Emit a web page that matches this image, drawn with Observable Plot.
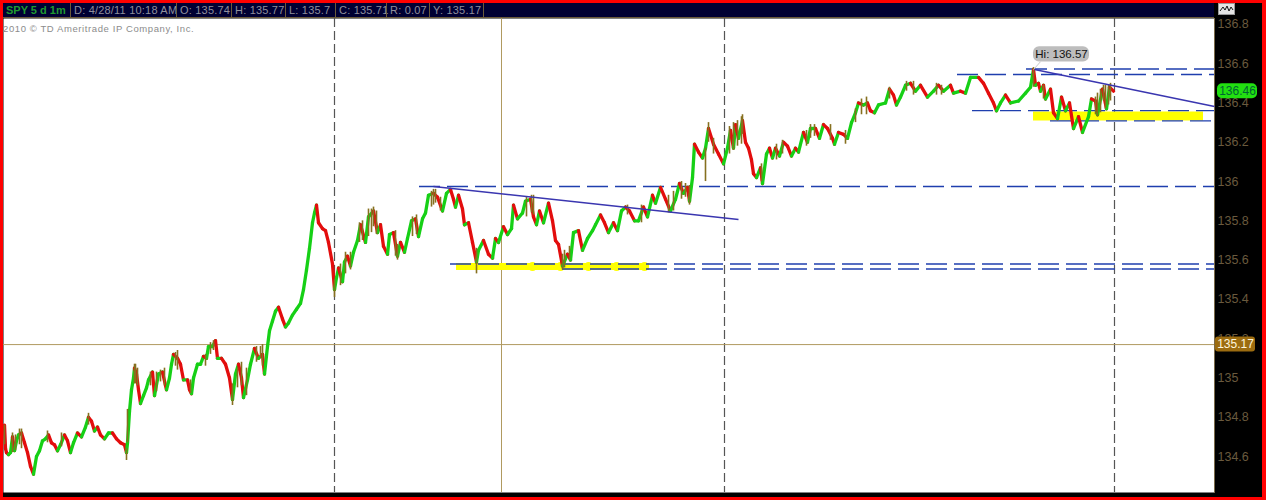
<!DOCTYPE html>
<html><head><meta charset="utf-8">
<script src="https://cdn.jsdelivr.net/npm/d3@7"></script>
<script src="https://cdn.jsdelivr.net/npm/@observablehq/plot@0.6"></script>
<style>
html,body{margin:0;padding:0;background:#f00;font-family:"Liberation Sans",Arial,sans-serif}
#page{position:relative;width:1266px;height:500px;background:#f00;overflow:hidden}
#inner{position:absolute;left:3px;top:3px;width:1259px;height:494px;background:#000}
#head{position:absolute;left:3px;top:3px;width:1211px;height:15px;background:#000033;border-bottom:1px solid #6a5a3a;box-sizing:border-box}
#head span{position:absolute;top:0;line-height:14px;font-size:11px;letter-spacing:.2px;color:#8f8f9c;white-space:nowrap;padding-left:3px;height:14px;border-left:1px solid #6a5a3a}
#head span.sym{left:3px;border:none;color:#1f9a30;font-weight:bold;padding:0;letter-spacing:0}
#icon{position:absolute;left:1218px;top:3px;width:17px;height:12px}
#copy{position:absolute;left:3px;top:23px;font-size:9.5px;letter-spacing:.6px;color:#8c8c8c;white-space:nowrap;z-index:2}
#plot{position:absolute;left:0;top:0}
</style></head><body>
<div id="page"><div id="inner"></div><div id="plot"></div>
<div id="head"><span class="sym">SPY 5 d 1m</span></div>
<svg id="icon" viewBox="0 0 17 12"><rect x=".5" y=".5" width="16" height="11" fill="#e4e4e4" stroke="#999"/><polyline points="2,8 5,4 7,7 9,3 11,8 13,4 15,7" fill="none" stroke="#111" stroke-width="1"/></svg>
<div id="copy">2010 © TD Ameritrade IP Company, Inc.</div></div>
<script>
const headerCells=[["D: 4/28/11 10:18 AM",67],["O: 135.74",173],["H: 135.77",228],["L: 135.7",282],["C: 135.71",332],["R: 0.07",383],["Y: 135.17",426],["",480]];
const barMinutes=[4,5,6,8,10,12,14,16,18,21,24,27,30,33,36,39,42,45,48,51,54,57,60,64,67,70,73,77,81,85,88,91,94,97,100,104,108,112,116,120,124,126,127,129,131,133,134,136,138,140,143,146,148,152,154,158,162,166,169,171,173,177,180,183,187,189,191,193,197,200,203,206,208,212,215,217,221,225,229,232,235,238,241,243,247,250,254,258,262,264,267,269,272,275,278,282,285,288,292,296,300,303,306,309,312,314,316,318,322,325,328,332,334,336,338,342,344,347,350,353,357,360,365,368,373,377,380,383,387,389,393,397,400,404,407,411,415,418,422,425,428,433,437,442,446,450,453,455,458,462,464,468,472,476,478,483,488,492,495,498,503,507,511,513,517,522,525,530,533,536,539,543,548,552,555,558,562,567,570,573,578,582,587,592,595,600,604,608,613,617,621,625,629,634,638,643,647,652,655,660,665,670,675,679,683,687,689,692,694,698,702,705,708,713,718,723,727,730,733,735,738,742,745,748,751,753,756,760,762,766,769,772,775,779,783,787,791,795,798,803,807,810,815,819,823,827,832,834,838,843,847,851,855,858,863,867,870,874,878,885,889,893,896,900,905,910,915,920,927,933,938,943,950,953,960,965,970,978,983,988,993,996,1000,1005,1010,1018,1025,1030,1033,1035,1038,1040,1043,1045,1050,1053,1057,1061,1065,1069,1073,1078,1082,1088,1091,1095,1097,1102,1106,1109,1113];
const barCloses=[134.76,134.64,134.62,134.61,134.62,134.70,134.63,134.68,134.71,134.72,134.67,134.62,134.55,134.51,134.60,134.63,134.68,134.69,134.71,134.67,134.66,134.63,134.66,134.71,134.68,134.62,134.67,134.72,134.70,134.75,134.80,134.78,134.73,134.75,134.71,134.69,134.72,134.72,134.69,134.67,134.66,134.62,134.67,134.83,134.94,135.00,135.05,135.02,134.94,134.87,134.91,134.95,134.99,135.03,134.91,135.02,135.03,134.94,135.00,135.07,135.12,135.10,135.07,134.99,134.99,134.94,134.92,135.00,135.07,135.07,135.11,135.10,135.16,135.16,135.19,135.10,135.10,135.07,135.00,134.89,135.02,135.07,135.00,134.90,134.99,135.07,135.15,135.10,135.12,135.02,135.16,135.24,135.29,135.34,135.36,135.30,135.26,135.28,135.32,135.35,135.38,135.45,135.55,135.66,135.79,135.84,135.88,135.79,135.76,135.75,135.69,135.58,135.45,135.51,135.56,135.49,135.59,135.62,135.57,135.64,135.70,135.78,135.69,135.82,135.85,135.74,135.78,135.67,135.63,135.73,135.74,135.62,135.69,135.64,135.71,135.80,135.81,135.72,135.81,135.84,135.93,135.94,135.92,135.85,135.94,135.96,135.91,135.87,135.93,135.86,135.78,135.79,135.69,135.59,135.65,135.70,135.63,135.61,135.71,135.69,135.77,135.73,135.76,135.88,135.81,135.84,135.90,135.91,135.82,135.78,135.85,135.79,135.89,135.80,135.70,135.68,135.57,135.63,135.60,135.74,135.75,135.65,135.71,135.75,135.78,135.83,135.79,135.74,135.79,135.75,135.85,135.87,135.85,135.80,135.80,135.87,135.82,135.93,135.89,135.97,135.91,135.85,135.91,135.99,135.94,135.97,135.90,136.02,136.19,136.15,136.12,136.17,136.27,136.19,136.14,136.09,136.17,136.26,136.17,136.29,136.22,136.31,136.20,136.17,136.11,136.04,136.02,136.07,135.99,136.14,136.17,136.12,136.17,136.13,136.20,136.18,136.13,136.17,136.15,136.25,136.20,136.27,136.27,136.22,136.29,136.27,136.22,136.19,136.25,136.24,136.22,136.30,136.35,136.40,136.39,136.40,136.36,136.35,136.39,136.40,136.47,136.44,136.39,136.43,136.49,136.50,136.46,136.49,136.43,136.46,136.49,136.46,136.49,136.45,136.46,136.45,136.53,136.53,136.50,136.45,136.40,136.36,136.40,136.44,136.40,136.41,136.45,136.48,136.57,136.49,136.50,136.46,136.49,136.42,136.47,136.35,136.32,136.43,136.36,136.40,136.27,136.33,136.25,136.33,136.42,136.41,136.34,136.47,136.37,136.48,136.46];
const wickMinutes=[4,12,21,88,126,127,134,177,232,237,262,334,350,368,373,397,433,476,533,562,689,705,708,713,742,810,855,889,1033,1097,1103,1110,15,19,47,61,135,137,150,156,160,164,175,190,205,210,213,241,246,256,260,340,345,359,362,371,376,395,412,416,431,435,440,526,531,564,569,627,641,668,673,681,685,729,733,737,741,761,776,782,806,814,830,845,861,866,906,913,936,941,1043,1095,1100,1105,1108];
const wickHighs=[134.76,134.72,134.74,134.82,134.64,134.84,135.07,135.14,134.97,135.05,135.17,135.50,135.64,135.86,135.87,135.68,135.96,135.66,135.93,135.63,135.98,136.17,136.30,136.22,136.34,136.29,136.37,136.48,136.58,136.45,136.49,136.50,134.71,134.74,134.73,134.72,135.07,135.05,135.03,135.03,135.04,135.05,135.13,134.99,135.12,135.18,135.19,135.08,135.05,135.16,135.16,135.58,135.64,135.79,135.80,135.86,135.85,135.75,135.82,135.83,135.95,135.96,135.92,135.92,135.93,135.65,135.67,135.88,135.88,135.93,135.95,136.00,135.99,136.28,136.30,136.31,136.33,136.09,136.19,136.21,136.26,136.29,136.29,136.26,136.42,136.43,136.51,136.51,136.50,136.49,136.49,136.43,136.47,136.49,136.49];
const wickLows=[134.66,134.62,134.64,134.76,134.58,134.67,134.97,135.04,134.86,134.95,135.06,135.41,135.55,135.72,135.77,135.60,135.88,135.53,135.83,135.55,135.88,136.00,136.20,136.14,136.24,136.22,136.30,136.42,136.48,136.33,136.41,136.41,134.63,134.66,134.67,134.65,134.97,134.96,134.96,134.93,134.98,134.96,135.06,134.92,135.06,135.12,135.14,134.96,134.91,135.08,135.10,135.47,135.53,135.69,135.70,135.74,135.73,135.62,135.72,135.73,135.87,135.89,135.85,135.82,135.84,135.56,135.60,135.83,135.79,135.84,135.85,135.91,135.92,136.14,136.16,136.18,136.19,136.00,136.11,136.14,136.18,136.23,136.21,136.19,136.34,136.34,136.46,136.44,136.44,136.44,136.42,136.34,136.35,136.37,136.39];
const sessionBreaks=[334,724,1114];
const crosshairMinute=501, crosshairPrice=135.17;
const lastPrice=136.46, highPrice=136.57;
const axisTicks=[136.8,136.6,136.4,136.2,136,135.8,135.6,135.4,135.2,135,134.8,134.6];
const dashedLevels=[[419,135.975],[450,135.58],[562,135.555],[1026,136.573],[957,136.545],[972,136.361],[1050,136.309]];
const dashedEnds=[1214,1214,1214,1214,1214,1214,1211];
const trendLines=[[433,135.975,738,135.807],[1034,136.57,1214,136.382]];
const yellowZones=[[456,649,135.567,7],[1033,1203,136.334,9]];
const yellowBumps=[532,560,588,616,644];

const bars=barMinutes.map((m,i)=>({m,c:barCloses[i]}));
const segs=bars.slice(1).map((b,i)=>({x1:bars[i].m,x2:b.m,y1:bars[i].c,y2:b.c,up:b.c>=bars[i].c}));
const wicks=wickMinutes.map((m,i)=>({m,h:wickHighs[i],l:wickLows[i]}));
const dashes=dashedLevels.map((d,i)=>({x1:d[0],x2:dashedEnds[i],y:d[1]}));
const trends=trendLines.map(t=>({x1:t[0],y1:t[1],x2:t[2],y2:t[3]}));
const zones=yellowZones.map(z=>({x1:z[0],x2:z[1],y:z[2],w:z[3]}));
const chart=Plot.plot({
  width:1266,height:500,marginTop:18,marginBottom:8,marginLeft:3,marginRight:52,
  style:{background:"transparent",overflow:"visible"},
  x:{domain:[3,1214],axis:null},
  y:{domain:[134.417,136.83],label:null,axis:null},
  marks:[
    Plot.frame({fill:"white",stroke:"none"}),
    Plot.frame({anchor:"right",stroke:"#7a6a4a"}),
    Plot.axisY(axisTicks,{anchor:"right",tickSize:0,tickPadding:3,textAnchor:"start",color:"#6a5a3e",fill:"#6a5a3e",fontSize:12.5,fontFamily:"Liberation Sans",label:null,tickFormat:d=>String(d)}),
    Plot.ruleX(sessionBreaks,{stroke:"#555",strokeWidth:1.2,strokeDasharray:"9,4"}),
    Plot.ruleX([crosshairMinute],{stroke:"#b09a60"}),
    Plot.ruleY([crosshairPrice],{stroke:"#b09a60"}),
    Plot.ruleY(zones,{x1:"x1",x2:"x2",y:"y",stroke:"#ffff00",strokeWidth:d=>d.w}),
    Plot.dot(yellowBumps,{x:d=>d,y:()=>135.567,r:4.5,fill:"#ffff00"}),
    Plot.ruleY(dashes,{x1:"x1",x2:"x2",y:"y",stroke:"#1f3fae",strokeWidth:1.4,strokeDasharray:"21,7"}),
    Plot.link(segs,{x1:"x1",y1:"y1",x2:"x2",y2:"y2",stroke:d=>d.up?"#16d016":"#e30d0d",strokeWidth:3.3,strokeLinecap:"round"}),
    Plot.ruleX(wicks,{x:"m",y1:"l",y2:"h",stroke:"#86701f",strokeWidth:1.6}),
    Plot.link(trends,{x1:"x1",y1:"y1",x2:"x2",y2:"y2",stroke:"#3a36b0",strokeWidth:1.5}),
    Plot.link([{x1:1033,y1:highPrice,x2:1040,y2:136.61}],{x1:"x1",y1:"y1",x2:"x2",y2:"y2",stroke:"#c8c8c8"}),
    Plot.rect([{x1:1033,x2:1089,y1:136.608,y2:136.686}],{x1:"x1",x2:"x2",y1:"y1",y2:"y2",fill:"#bdbdbd",rx:6}),
    Plot.text(["Hi: "+highPrice],{x:()=>1061,y:()=>136.646,text:d=>d,fill:"#111",fontSize:11.5,fontFamily:"Liberation Sans"}),
    Plot.rect([{x1:1217,x2:1257,y1:lastPrice-0.038,y2:lastPrice+0.038}],{x1:"x1",x2:"x2",y1:"y1",y2:"y2",fill:"#22e010",rx:5}),
    Plot.text([String(lastPrice)],{x:()=>1237,y:()=>lastPrice,text:d=>d,fill:"#063",fontSize:12,fontFamily:"Liberation Sans"}),
    Plot.rect([{x1:1215,x2:1255,y1:crosshairPrice-0.038,y2:crosshairPrice+0.038}],{x1:"x1",x2:"x2",y1:"y1",y2:"y2",fill:"#9c6c10",rx:3}),
    Plot.text([String(crosshairPrice)],{x:()=>1235,y:()=>crosshairPrice,text:d=>d,fill:"#fff6dc",fontSize:12,fontFamily:"Liberation Sans"})
  ]
});
document.getElementById("plot").appendChild(chart);
const head=document.getElementById("head");
headerCells.forEach(([t,l])=>{const s=document.createElement("span");s.textContent=t;s.style.left=l+"px";head.appendChild(s);});
</script>
</body></html>
